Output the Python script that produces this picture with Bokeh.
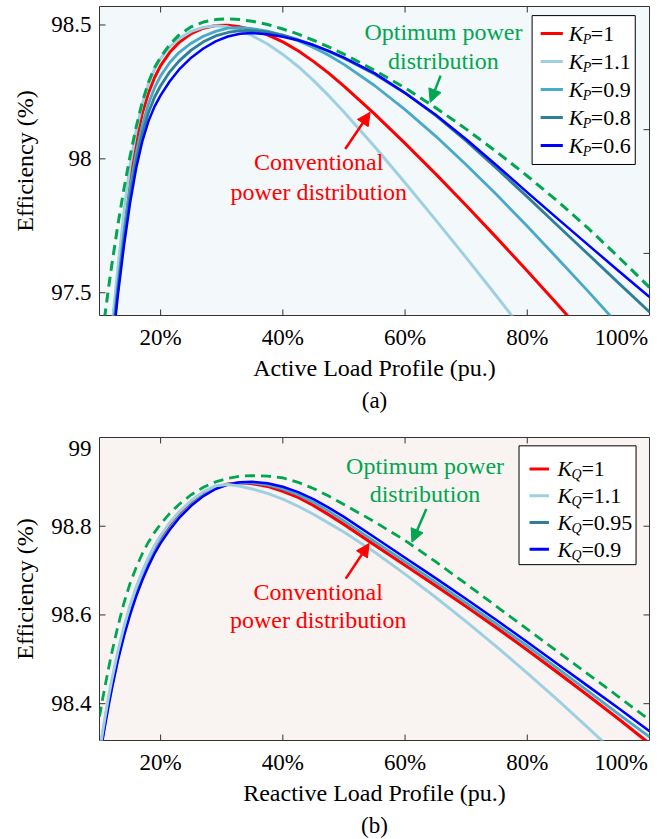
from bokeh.plotting import figure
from bokeh.models import (Range1d, FixedTicker, NumeralTickFormatter, Label, Arrow,
                          NormalHead, BoxAnnotation, Title)
from bokeh.layouts import column
from bokeh.embed import file_html
from bokeh.resources import INLINE

FONT = "Liberation Serif"

# ---------------- data: (a) active load profile ----------------
load_a = [0.105, 0.11, 0.115, 0.12, 0.13, 0.14, 0.15, 0.16, 0.17, 0.18, 0.19, 0.20,
          0.215, 0.23, 0.25, 0.27, 0.29, 0.31, 0.33, 0.35, 0.375, 0.40, 0.425, 0.45,
          0.475, 0.50, 0.55, 0.60, 0.65, 0.70, 0.75, 0.80, 0.85, 0.90, 0.95, 1.00]
eff_a_opt = [97.345, 97.436, 97.521, 97.602, 97.752, 97.888, 98.010, 98.119, 98.212, 98.285,
             98.340, 98.380, 98.427, 98.462, 98.493, 98.511, 98.520, 98.523, 98.520, 98.514,
             98.502, 98.485, 98.466, 98.443, 98.418, 98.391, 98.331, 98.265, 98.191, 98.111,
             98.026, 97.936, 97.841, 97.740, 97.632, 97.520]
eff_kp_1 = [96.965, 97.103, 97.235, 97.350, 97.562, 97.762, 97.932, 98.064, 98.170, 98.245,
            98.303, 98.348, 98.398, 98.434, 98.468, 98.488, 98.498, 98.499, 98.493, 98.482,
            98.463, 98.437, 98.404, 98.364, 98.320, 98.272, 98.168, 98.058, 97.944, 97.826,
            97.705, 97.581, 97.455, 97.326]
eff_kp_11 = [96.990, 97.120, 97.240, 97.360, 97.590, 97.800, 97.975, 98.105, 98.205, 98.280,
             98.335, 98.375, 98.418, 98.449, 98.476, 98.491, 98.497, 98.493, 98.480, 98.460,
             98.429, 98.390, 98.345, 98.293, 98.236, 98.175, 98.046, 97.911, 97.772, 97.631,
             97.487, 97.340]
eff_kp_09 = [96.930, 97.070, 97.200, 97.320, 97.530, 97.725, 97.890, 98.020, 98.125, 98.205,
             98.265, 98.310, 98.360, 98.397, 98.432, 98.458, 98.476, 98.488, 98.490, 98.486,
             98.477, 98.461, 98.441, 98.416, 98.387, 98.353, 98.274, 98.184, 98.085, 97.978,
             97.866, 97.748, 97.627, 97.504, 97.378, 97.249]
eff_kp_08 = [96.900, 97.045, 97.175, 97.295, 97.510, 97.700, 97.862, 97.992, 98.095, 98.172,
             98.230, 98.273, 98.325, 98.365, 98.406, 98.437, 98.459, 98.472, 98.479, 98.479,
             98.473, 98.462, 98.445, 98.425, 98.401, 98.376, 98.317, 98.246, 98.162, 98.067,
             97.964, 97.858, 97.750, 97.643, 97.535, 97.428]
eff_kp_06 = [96.880, 97.020, 97.150, 97.275, 97.490, 97.675, 97.835, 97.965, 98.065, 98.140,
             98.195, 98.237, 98.290, 98.333, 98.378, 98.412, 98.439, 98.457, 98.467, 98.470,
             98.465, 98.456, 98.443, 98.425, 98.403, 98.378, 98.320, 98.246, 98.165, 98.073,
             97.975, 97.875, 97.776, 97.678, 97.580, 97.484]

# ---------------- data: (b) reactive load profile ----------------
load_b = [0.10, 0.105, 0.11, 0.115, 0.12, 0.13, 0.14, 0.15, 0.16, 0.17, 0.18, 0.19, 0.20,
          0.215, 0.23, 0.25, 0.27, 0.29, 0.31, 0.33, 0.35, 0.375, 0.40, 0.425, 0.45, 0.475,
          0.50, 0.55, 0.60, 0.65, 0.70, 0.75, 0.80, 0.85, 0.90, 0.95, 1.00]
eff_b_opt = [98.371, 98.410, 98.446, 98.481, 98.514, 98.574, 98.627, 98.671, 98.707, 98.738,
             98.764, 98.786, 98.805, 98.829, 98.849, 98.871, 98.888, 98.900, 98.908, 98.913,
             98.914, 98.913, 98.909, 98.899, 98.885, 98.868, 98.849, 98.810, 98.768, 98.720,
             98.670, 98.619, 98.568, 98.517, 98.466, 98.415, 98.363]
eff_kq_1 = [98.283, 98.328, 98.369, 98.408, 98.445, 98.510, 98.565, 98.613, 98.654, 98.689,
            98.720, 98.747, 98.770, 98.799, 98.824, 98.851, 98.872, 98.887, 98.895, 98.898,
            98.896, 98.890, 98.879, 98.865, 98.847, 98.826, 98.804, 98.758, 98.712, 98.666,
            98.619, 98.571, 98.521, 98.470, 98.418, 98.365, 98.310]
eff_kq_11 = [98.290, 98.335, 98.377, 98.417, 98.453, 98.518, 98.574, 98.622, 98.663, 98.698,
             98.729, 98.756, 98.779, 98.808, 98.832, 98.858, 98.878, 98.891, 98.894, 98.890,
             98.884, 98.874, 98.861, 98.845, 98.827, 98.807, 98.787, 98.742, 98.692, 98.640,
             98.585, 98.528, 98.469, 98.408, 98.345, 98.281]
eff_kq_095 = [98.279, 98.323, 98.364, 98.402, 98.438, 98.503, 98.558, 98.606, 98.648, 98.683,
              98.715, 98.742, 98.766, 98.795, 98.821, 98.848, 98.870, 98.885, 98.894, 98.898,
              98.898, 98.893, 98.884, 98.871, 98.854, 98.834, 98.812, 98.766, 98.720, 98.674,
              98.627, 98.579, 98.530, 98.479, 98.428, 98.376, 98.325]
eff_kq_09 = [98.275, 98.318, 98.358, 98.396, 98.432, 98.497, 98.552, 98.600, 98.642, 98.678,
             98.710, 98.738, 98.762, 98.792, 98.818, 98.846, 98.868, 98.884, 98.894, 98.899,
             98.900, 98.897, 98.889, 98.877, 98.861, 98.842, 98.821, 98.775, 98.729, 98.683,
             98.636, 98.588, 98.539, 98.489, 98.439, 98.389, 98.338]

x_ticks = [0.2, 0.4, 0.6, 0.8]
y_ticks_a = [97.5, 98.0, 98.5]
y_ticks_a_right = [97.647, 98.109]
y_ticks_b = [98.4, 98.6, 98.8]
kp_labels = ["1", "1.1", "0.9", "0.8", "0.6"]
kq_labels = ["1", "1.1", "0.95", "0.9"]

RED = "#ff0000"
LIGHT = "#9fd0e2"
MID = "#4aa8c8"
TEAL = "#2f7f97"
BLUE = "#0000ff"
GREEN = "#00a650"
AX = "#333333"
TICK = 6  # px, inward tick length


def base_fig(height, mb_left, mb_top, mb_bottom, xr, yr, bg, xlabel, ylabel,
             xlabel_ticks, xover, ylabel_ticks, yover):
    p = figure(width=664, height=height, x_range=Range1d(*xr), y_range=Range1d(*yr),
               output_backend="svg", toolbar_location=None,
               min_border_left=mb_left, min_border_right=15,
               min_border_top=mb_top, min_border_bottom=mb_bottom)
    p.background_fill_color = bg
    p.border_fill_color = "white"
    p.outline_line_color = AX
    p.outline_line_width = 1
    p.grid.visible = False
    for ax in (p.xaxis[0], p.yaxis[0]):
        ax.axis_line_color = None
        ax.major_tick_line_color = None
        ax.minor_tick_line_color = None
        ax.major_tick_in = 0
        ax.major_tick_out = 0
        ax.major_label_text_font = FONT
        ax.major_label_text_font_size = "23px"
        ax.major_label_text_color = "black"
        ax.axis_label_text_font = FONT
        ax.axis_label_text_font_size = "24px"
        ax.axis_label_text_font_style = "normal"
        ax.axis_label_text_color = "black"
    xa = p.xaxis[0]
    xa.ticker = FixedTicker(ticks=xlabel_ticks)
    xa.formatter = NumeralTickFormatter(format="0%")
    xa.major_label_overrides = xover
    xa.major_label_standoff = 9
    xa.axis_label = xlabel
    xa.axis_label_standoff = 2
    ya = p.yaxis[0]
    ya.ticker = FixedTicker(ticks=ylabel_ticks)
    ya.major_label_overrides = yover
    ya.major_label_standoff = 8
    ya.axis_label = ylabel
    ya.axis_label_standoff = 10
    return p


def ticks(p, xr, yr, fw, fh, xt, yt_left, yt_right):
    dx = (xr[1] - xr[0]) / fw * TICK
    dy = (yr[1] - yr[0]) / fh * TICK
    # bottom and top
    p.segment(x0=xt, x1=xt, y0=[yr[0]] * len(xt), y1=[yr[0] + dy] * len(xt),
              line_color=AX, line_width=1)
    p.segment(x0=xt, x1=xt, y0=[yr[1]] * len(xt), y1=[yr[1] - dy] * len(xt),
              line_color=AX, line_width=1)
    # left and right
    p.segment(x0=[xr[0]] * len(yt_left), x1=[xr[0] + dx] * len(yt_left), y0=yt_left,
              y1=yt_left, line_color=AX, line_width=1)
    p.segment(x0=[xr[1]] * len(yt_right), x1=[xr[1] - dx] * len(yt_right), y0=yt_right,
              y1=yt_right, line_color=AX, line_width=1)


def text(p, x, y, s, color="black", size="24px", align="center", style="normal",
         xo=0, yo=0):
    p.add_layout(Label(x=x, y=y, text=s, x_offset=xo, y_offset=yo, text_font=FONT,
                       text_font_size=size, text_color=color, text_align=align,
                       text_baseline="middle", text_font_style=style))


def arrow(p, x0, y0, x1, y1, color):
    p.add_layout(Arrow(end=NormalHead(size=13, fill_color=color, line_color=color),
                       x_start=x0, y_start=y0, x_end=x1, y_end=y1,
                       line_color=color, line_width=2.5))


def legend(p, box, sx, tx, rows, sub, labels, colors, eq_off):
    left, right, bottom, top = box
    p.add_layout(BoxAnnotation(left=left, right=right, bottom=bottom, top=top,
                               fill_color="white", fill_alpha=1.0,
                               line_color="black", line_alpha=1.0, line_width=1))
    for lab, col, y in zip(labels, colors, rows):
        p.add_layout(Arrow(end=None, x_start=sx[0], y_start=y, x_end=sx[1], y_end=y,
                           line_color=col, line_width=3))
        text(p, tx, y, "K", size="22px", align="left", style="italic")
        text(p, tx, y, sub, size="14px", align="left", style="italic", xo=14, yo=-6)
        text(p, tx, y, "=" + lab, size="22px", align="left", xo=eq_off)


kw = dict(line_join="round", line_cap="butt")

# ---------------- (a) ----------------
XR_A, YR_A = (0.1, 1.0), (97.415, 98.569)
pa = base_fig(420, 97, 6, 105, XR_A, YR_A, "#f3f8fb",
              "Active Load Profile (pu.)", "Efficiency (%)",
              x_ticks + [0.954], {0.954: "100%"},
              y_ticks_a, {97.5: "97.5", 98.0: "98", 98.5: "98.5"})
pa.add_layout(Title(text="(a)", align="center", text_font=FONT, text_font_size="23px",
                    text_font_style="normal", text_color="black", standoff=4), "below")
ticks(pa, XR_A, YR_A, 552, 309, x_ticks, y_ticks_a, y_ticks_a_right)

pa.line(load_a[:len(eff_kp_1)], eff_kp_1, line_color=RED, line_width=3, **kw)
pa.line(load_a[:len(eff_kp_11)], eff_kp_11, line_color=LIGHT, line_width=3, **kw)
pa.line(load_a[:len(eff_kp_09)], eff_kp_09, line_color=MID, line_width=2.8, **kw)
pa.line(load_a[:len(eff_kp_08)], eff_kp_08, line_color=TEAL, line_width=2.8, **kw)
pa.line(load_a[:len(eff_kp_06)], eff_kp_06, line_color=BLUE, line_width=2.5, **kw)
pa.line(load_a, eff_a_opt, line_color=GREEN, line_width=3, line_dash="10 6", **kw)

text(pa, 0.6628, 98.472, "Optimum power", color=GREEN)
text(pa, 0.6628, 98.367, "distribution", color=GREEN)
arrow(pa, 0.6582, 98.311, 0.6412, 98.211, GREEN)
text(pa, 0.4588, 97.987, "Conventional", color=RED)
text(pa, 0.4588, 97.875, "power distribution", color=RED)
arrow(pa, 0.5021, 98.037, 0.5428, 98.174, RED)
legend(pa, (0.8079, 0.9767, 97.979, 98.535), (0.8219, 0.8582), 0.868,
       [98.468 - 0.1045 * i for i in range(5)], "P", kp_labels,
       [RED, LIGHT, MID, TEAL, BLUE], 22)

# ---------------- (b) ----------------
XR_B, YR_B = (0.1, 1.0), (98.317, 99.0)
pb = base_fig(419, 99, 17, 98, XR_B, YR_B, "#f9f4f2",
              "Reactive Load Profile (pu.)", "Efficiency (%)",
              x_ticks + [0.9534], {0.9534: "100%"},
              y_ticks_b + [98.975], {98.975: "99"})
pb.add_layout(Title(text="(b)", align="center", text_font=FONT, text_font_size="23px",
                    text_font_style="normal", text_color="black", standoff=4), "below")
ticks(pb, XR_B, YR_B, 550, 304, x_ticks, y_ticks_b, y_ticks_b)

pb.line(load_b[:len(eff_kq_1)], eff_kq_1, line_color=RED, line_width=3.2, **kw)
pb.line(load_b[:len(eff_kq_095)], eff_kq_095, line_color=MID, line_width=2.8, **kw)
pb.line(load_b[:len(eff_kq_09)], eff_kq_09, line_color=BLUE, line_width=2.5, **kw)
pb.line(load_b[:len(eff_kq_11)], eff_kq_11, line_color=LIGHT, line_width=3, **kw)
pb.line(load_b, eff_b_opt, line_color=GREEN, line_width=2.8, line_dash="10 6", **kw)

text(pb, 0.6327, 98.9365, "Optimum power", color=GREEN)
text(pb, 0.6327, 98.873, "distribution", color=GREEN)
arrow(pb, 0.6348, 98.839, 0.6113, 98.764, GREEN)
text(pb, 0.4579, 98.652, "Conventional", color=RED)
text(pb, 0.4579, 98.589, "power distribution", color=RED)
arrow(pb, 0.503, 98.682, 0.5413, 98.761, RED)
legend(pb, (0.7865, 0.978, 98.7134, 98.9812), (0.8037, 0.8355), 0.8493,
       [98.929 - 0.0603 * i for i in range(4)], "Q", kq_labels,
       [RED, LIGHT, TEAL, BLUE], 24)

layout = column(pa, pb, spacing=0)
open("out.html", "w").write(file_html(layout, INLINE))
